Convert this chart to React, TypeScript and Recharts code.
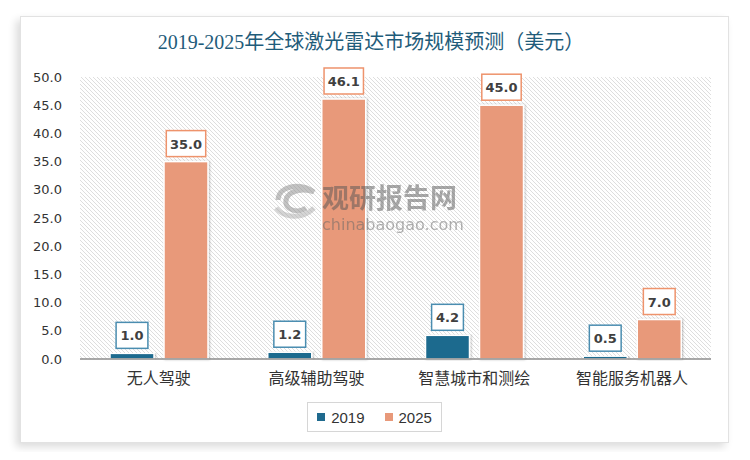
import React from "react";
import {
  BarChart,
  Bar,
  XAxis,
  YAxis,
  CartesianGrid,
  LabelList,
} from "recharts";

const categories = ["无人驾驶", "高级辅助驾驶", "智慧城市和测绘", "智能服务机器人"];
const values2019 = [1.0, 1.2, 4.2, 0.5];
const values2025 = [35.0, 46.1, 45.0, 7.0];
const yTicks = [0, 5, 10, 15, 20, 25, 30, 35, 40, 45, 50];
const seriesNames = ["2019", "2025"];

const COLORS = ["#1F6A8E", "#E8997A"];
const LABEL_BORDERS = ["#4A8DB0", "#EE936C"];

const data = categories.map((name, i) => ({
  name,
  y2019: values2019[i],
  y2025: values2025[i],
}));

const makeLabel = (idx: number) => (props: any) => {
  const { x, y, width, value } = props;
  const text = Number(value).toFixed(1);
  const w = text.length * 7.6 + 9;
  const h = 26;
  const cx = x + width / 2;
  const top = y - 5 - h;
  return (
    <g>
      <rect
        x={cx - w / 2}
        y={top}
        width={w}
        height={h}
        fill="#fff"
        stroke={LABEL_BORDERS[idx]}
        strokeWidth={1.5}
      />
      <text
        x={cx}
        y={top + h / 2 + 5}
        textAnchor="middle"
        fontFamily="'DejaVu Sans', sans-serif"
        fontWeight="bold"
        fontSize={13}
        fill="#404040"
      >
        {text}
      </text>
    </g>
  );
};

const barShape = (idx: number) => (props: any) => {
  const { x, y, width, height } = props;
  return (
    <rect
      x={x}
      y={y}
      width={width}
      height={height}
      fill={COLORS[idx]}
      stroke="#fff"
      strokeWidth={1.5}
      filter="url(#barShadow)"
    />
  );
};

export default function App() {
  return (
    <div style={{ position: "relative", width: 750, height: 460, margin: -8, background: "#fff", overflow: "hidden" }}>
      <div
        style={{
          position: "absolute",
          left: 20,
          top: 16,
          width: 709,
          height: 427,
          border: "1px solid #e2e2e2",
          boxSizing: "border-box",
          boxShadow: "-4px 4px 8px rgba(0,0,0,0.14)",
          background: "#fff",
        }}
      />
      <div
        style={{
          position: "absolute",
          left: 0,
          top: 29,
          width: 742,
          textAlign: "center",
          fontFamily: "'Liberation Serif', 'Noto Sans CJK SC', serif",
          fontSize: 20,
          color: "#1F5C7A",
          lineHeight: "26px",
        }}
      >
        2019-2025年全球激光雷达市场规模预测（美元）
      </div>
      <div style={{ position: "absolute", left: 0, top: 0 }}>
        <BarChart
          width={750}
          height={460}
          data={data}
          margin={{ top: 77, right: 39, bottom: 71, left: 20 }}
          barSize={44}
          barGap={10}
        >
          <defs>
            <pattern id="hatch" patternUnits="userSpaceOnUse" width="4" height="4">
              <path d="M-1,-1 l2,2 M0,0 l4,4 M3,3 l2,2" stroke="#dedede" strokeWidth={1} />
            </pattern>
            <filter id="barShadow" x="-20%" y="-5%" width="140%" height="110%">
              <feDropShadow dx="1" dy="0" stdDeviation="1" floodColor="#000" floodOpacity="0.25" />
            </filter>
          </defs>
          <CartesianGrid horizontal={false} vertical={false} fill="url(#hatch)" />
          <XAxis
            dataKey="name"
            height={30}
            tickLine={false}
            axisLine={{ stroke: "#8c8c8c", strokeWidth: 1.5 }}
            tickMargin={8}
            tick={{ fontFamily: "'Noto Sans CJK SC', sans-serif", fontSize: 16, fill: "#333" }}
          />
          <YAxis
            width={60}
            domain={[0, 50]}
            ticks={yTicks}
            interval={0}
            axisLine={false}
            tickLine={false}
            tickMargin={12}
            tickFormatter={(v: number) => v.toFixed(1)}
            tick={{ fontFamily: "'DejaVu Sans', sans-serif", fontSize: 13, fill: "#333" }}
          />
          <Bar dataKey="y2019" name="2019" fill={COLORS[0]} isAnimationActive={false} shape={barShape(0)}>
            <LabelList dataKey="y2019" content={makeLabel(0)} />
          </Bar>
          <Bar dataKey="y2025" name="2025" fill={COLORS[1]} isAnimationActive={false} shape={barShape(1)}>
            <LabelList dataKey="y2025" content={makeLabel(1)} />
          </Bar>
        </BarChart>
      </div>
      <div
        style={{
          position: "absolute",
          left: 307,
          top: 402,
          width: 135,
          height: 30,
          border: "1px solid #d6d6d6",
          boxSizing: "border-box",
          display: "flex",
          alignItems: "center",
          justifyContent: "center",
          gap: 20,
          fontFamily: "'Liberation Sans', sans-serif",
          fontSize: 15,
          color: "#333",
          background: "#fff",
        }}
      >
        {seriesNames.map((s, i) => (
          <span key={s} style={{ display: "flex", alignItems: "center", gap: 6 }}>
            <span style={{ width: 8, height: 8, background: COLORS[i], display: "inline-block" }} />
            {s}
          </span>
        ))}
      </div>
      <div style={{ position: "absolute", left: 270, top: 172, pointerEvents: "none", opacity: 0.5 }}>
        <svg width={230} height={66}>
          <path d="M8,28 C8,14 30,10 44,20 C34,16 18,18 16,28 C14,38 28,42 36,36" fill="none" stroke="#888" strokeWidth={5} />
          <path d="M6,36 C14,46 32,48 44,36" fill="none" stroke="#aaa" strokeWidth={5} />
          <text x={52} y={36} fontFamily="'Noto Sans CJK SC', sans-serif" fontWeight="bold" fontSize={27} fill="#555">
            观研报告网
          </text>
          <text x={52} y={58} fontFamily="'DejaVu Sans', sans-serif" fontSize={16} fill="#666">
            chinabaogao.com
          </text>
        </svg>
      </div>
    </div>
  );
}
